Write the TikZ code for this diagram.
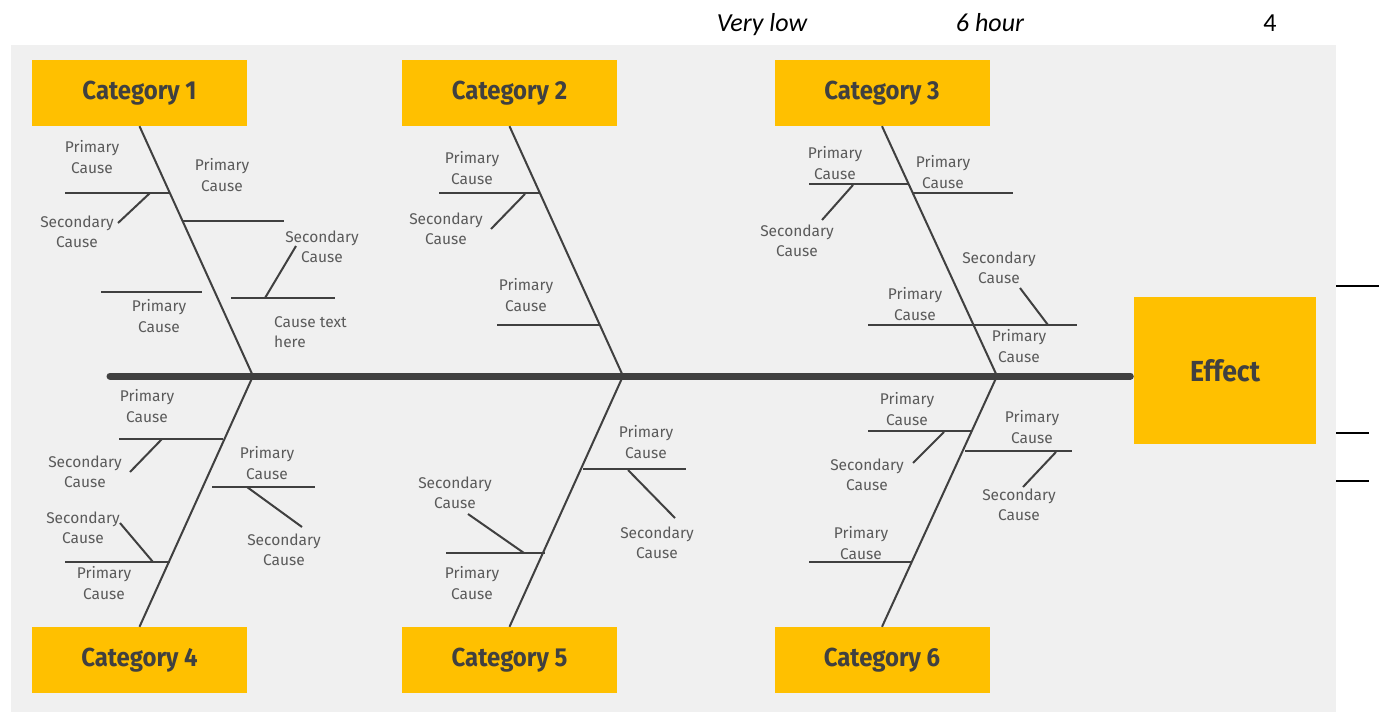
\documentclass[tikz,border=0pt]{standalone}
\usepackage{fontspec}
\newfontfamily\lblfontfam{Fira Sans}
\newfontfamily\catfontfam[FakeStretch=0.92]{Fira Sans}
\newfontfamily\topfontfam{Carlito}
\definecolor{bggray}{HTML}{F0F0F0}
\definecolor{catyellow}{HTML}{FFC000}
\definecolor{darkline}{HTML}{404040}
\definecolor{labelgray}{HTML}{5A5A5A}
\tikzset{
  catbox/.style={fill=catyellow, minimum width=215pt, minimum height=66pt, inner sep=0pt,
    text=darkline, font=\catfontfam\bfseries\fontsize{26}{30}\selectfont},
  effbox/.style={fill=catyellow, minimum width=182pt, minimum height=147pt, inner sep=0pt,
    text=darkline, font=\catfontfam\bfseries\fontsize{29}{32}\selectfont},
  bone/.style={draw=darkline, line width=2pt},
  branch/.style={draw=darkline, line width=2pt},
  spineline/.style={draw=darkline, line width=7pt, line cap=round, shorten >=3.5pt},
  lbl/.style={text=labelgray, align=center, inner sep=0pt,
    font=\lblfontfam\fontsize{15.5}{20.5}\selectfont},
  toptxt/.style={inner sep=0pt, font=\topfontfam\fontsize{26}{30}\selectfont},
  sideline/.style={draw=black, line width=2pt}
}
\begin{document}
\begin{tikzpicture}[x=1pt,y=-1pt]
\useasboundingbox (0,0) rectangle (1383,712);
\fill[bggray] (11,45) rectangle (1336,712);

% top texts
\node[toptxt, anchor=base] (t1) at (762,31) {\itshape Very low};
\node[toptxt, anchor=base] (t2) at (990,31) {\itshape 6 hour};
\node[toptxt, anchor=base] (t3) at (1270,31) {4};

% side lines
\draw[sideline] (1336,286) -- (1379,286);
\draw[sideline] (1336,433) -- (1369,433);
\draw[sideline] (1336,481) -- (1369,481);

% junctions on spine
\coordinate (sp) at (110,376);
\coordinate (j1) at (253,376);
\coordinate (j2) at (623,376);
\coordinate (j3) at (997,376);

% boxes
\node[catbox] (c1) at (139.5,93) {Category 1};
\node[catbox] (c2) at (509.5,93) {Category 2};
\node[catbox] (c3) at (882,93) {Category 3};
\node[catbox] (c4) at (139.5,660) {Category 4};
\node[catbox] (c5) at (509.5,660) {Category 5};
\node[catbox] (c6) at (882,660) {Category 6};
\node[effbox] (eff) at (1225,370.5) {Effect};

% spine
\draw[spineline] (sp) -- (sp -| eff.west);

% bones
\draw[bone] (c1.south) -- (j1) -- (c4.north);
\draw[bone] (c2.south) -- (j2) -- (c5.north);
\draw[bone] (c3.south) -- (j3) -- (c6.north);

% primary branches
\draw[branch] (65,193) -- (170,193);
\draw[branch] (183,221) -- (284,221);
\draw[branch] (101,292) -- (202,292);
\draw[branch] (231,298) -- (335,298);
\draw[branch] (119,439) -- (223,439);
\draw[branch] (212,487) -- (315,487);
\draw[branch] (65,562) -- (170,562);
\draw[branch] (439,193) -- (540,193);
\draw[branch] (497,325) -- (600,325);
\draw[branch] (583,469) -- (686,469);
\draw[branch] (446,553) -- (545,553);
\draw[branch] (809,184) -- (909,184);
\draw[branch] (912,193) -- (1013,193);
\draw[branch] (868,325) -- (1077,325);
\draw[branch] (868,431) -- (972,431);
\draw[branch] (965,451) -- (1072,451);
\draw[branch] (809,562) -- (912,562);

% secondary branches
\draw[branch] (150,193) -- (118,223);
\draw[branch] (265,298) -- (296,246);
\draw[branch] (162,439) -- (130,472);
\draw[branch] (247,487) -- (302,527);
\draw[branch] (153,562) -- (120,523);
\draw[branch] (525,194) -- (491,229);
\draw[branch] (628,470) -- (675,518);
\draw[branch] (524,553) -- (468,514);
\draw[branch] (853,185) -- (822,220);
\draw[branch] (1048,325) -- (1020,288);
\draw[branch] (944,432) -- (913,463);
\draw[branch] (1056,452) -- (1023,487);

% labels
\foreach \x/\y/\t [count=\i] in {
  92/157/P, 77/232/S, 222/175/P, 159/316/P, 322/247/S,
  147/406/P, 85/472/S, 267/463/P, 284/550/S, 104/583/P, 83/528/S,
  472/168/P, 446/229/S, 526/295/P,
  646/442/P, 657/543/S, 472/583/P, 455/493/S,
  835/163/P, 797/241/S, 943/172/P, 915/304/P, 1019/346/P, 999/268/S,
  907/409/P, 867/475/S, 1032/427/P, 1019/505/S, 861/543/P}
{
  \if\t P
    \node[lbl] (lb\i) at (\x,\y) {Primary\\Cause};
  \else
    \node[lbl] (lb\i) at (\x,\y) {Secondary\\Cause};
  \fi
}
\node[lbl, align=left, anchor=west] (ctext) at (274,332) {Cause text\\here};
\end{tikzpicture}
\end{document}
